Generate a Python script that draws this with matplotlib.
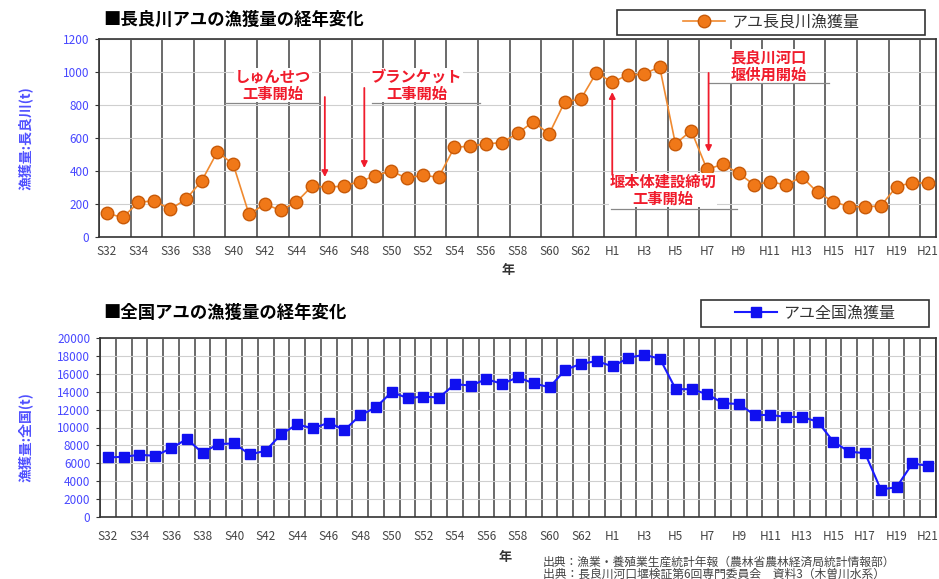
import numpy as np
import matplotlib.pyplot as plt
from matplotlib.patches import Rectangle

plt.rcParams['font.family'] = ['Noto Sans CJK JP', 'DejaVu Sans']

# 年 (昭和32年〜平成21年)
nen = [f'S{n}' for n in range(32, 64)] + [f'H{n}' for n in range(1, 22)]

# 長良川アユ漁獲量 (t)
nagara = [142, 117, 208, 219, 166, 227, 338, 516, 439, 136,
          198, 160, 210, 308, 300, 308, 334, 370, 399, 354,
          374, 360, 542, 550, 563, 571, 627, 698, 623, 820,
          834, 996, 937, 982, 986, 1032, 563, 644, 409, 439,
          385, 314, 334, 314, 364, 269, 213, 182, 182, 186,
          304, 328, 324]

# 全国アユ漁獲量 (t)
zenkoku = [6650, 6730, 6950, 6840, 7660, 8710, 7180, 8150, 8220, 6990,
           7400, 9270, 10350, 9900, 10540, 9720, 11360, 12260, 13980, 13270,
           13460, 13350, 14840, 14690, 15400, 14880, 15620, 14920, 14500, 16450,
           17120, 17420, 16820, 17790, 18130, 17680, 14280, 14280, 13720, 12710,
           12630, 11400, 11400, 11180, 11180, 10650, 8410, 7290, 7140, 3070,
           3330, 5980, 5720]

W, H = 939, 579
fig = plt.figure(figsize=(W / 100, H / 100), dpi=100)

ax1 = fig.add_axes([99 / W, 1 - 236.7 / H, 837 / W, 197.7 / H])
ax2 = fig.add_axes([100 / W, 1 - 517 / H, 836 / W, 179 / H])

x = np.arange(len(nen))

l1, = ax1.plot(x, nagara, '-o', color='#f08a30', mfc='#f07818', mec='#c85a08',
               ms=9, lw=1.2, zorder=4)
l2, = ax2.plot(x, zenkoku, '-s', color='#1a1aff', mfc='#1010f0', mec='#1010f0',
               ms=6.5, lw=1.5, zorder=4)

for ax, ymax, ystep, vstep in [(ax1, 1200, 200, 2), (ax2, 20000, 2000, 1)]:
    ax.set_xlim(-0.5, len(nen) - 0.5)
    ax.set_ylim(0, ymax)
    ax.set_yticks(np.arange(0, ymax + 1, ystep))
    ax.set_xticks(x[::2])
    ax.set_xticklabels(nen[::2])
    ax.set_xticks(np.arange(-0.5, len(nen), vstep), minor=True)
    ax.grid(axis='x', which='minor', color='#505050', lw=1.2)
    ax.grid(axis='y', which='major', color='#cfcfcf', lw=0.8)
    ax.set_axisbelow(True)
    ax.tick_params(axis='x', which='both', length=0, labelsize=8.5, colors='#444444')
    ax.tick_params(axis='y', labelsize=8.5, labelcolor='#4848ff', length=3,
                   color='#333333', pad=4)
    for s in ax.spines.values():
        s.set_color('#333333')
        s.set_linewidth(1.2)

ax1.tick_params(axis='x', pad=6)
ax2.tick_params(axis='x', pad=9)

# タイトル
fig.text(103 / W, 1 - 20 / H, '■長良川アユの漁獲量の経年変化', fontsize=12.5,
         fontweight='bold', ha='left', va='center')
fig.text(103 / W, 1 - 313 / H, '■全国アユの漁獲量の経年変化', fontsize=12.5,
         fontweight='bold', ha='left', va='center')

# 縦軸ラベル
fig.text(25 / W, 1 - 138 / H, '漁獲量:長良川(t)', rotation=90, fontsize=10,
         color='#5050ff', ha='center', va='center', fontweight='bold')
fig.text(25 / W, 1 - 437 / H, '漁獲量:全国(t)', rotation=90, fontsize=10,
         color='#5050ff', ha='center', va='center', fontweight='bold')

# 横軸ラベル
fig.text(508 / W, 1 - 270 / H, '年', fontsize=9.5, ha='center', va='center',
         fontweight='bold', color='#333333')
fig.text(505 / W, 1 - 557 / H, '年', fontsize=9.5, ha='center', va='center',
         fontweight='bold', color='#333333')

# 凡例
for (x0, y0, x1, y1), h, lab in [((617, 10, 925, 35), l1, 'アユ長良川漁獲量'),
                                 ((701, 300, 929, 327), l2, 'アユ全国漁獲量')]:
    fig.add_artist(Rectangle((x0 / W, 1 - y1 / H), (x1 - x0) / W, (y1 - y0) / H,
                             transform=fig.transFigure, fc='white',
                             ec='#333333', lw=1.2))
    fig.legend([h], [lab], loc='center',
               bbox_to_anchor=((x0 + x1) / 2 / W, 1 - (y0 + y1) / 2 / H),
               frameon=False, fontsize=11.5, handlelength=2.6, handletextpad=0.4,
               borderpad=0.1, labelcolor='#333333')

# 注記 (工事など)
red = '#f01c2c'
notes = [('しゅんせつ\n工事開始', 10.5, 921),
         ('ブランケット\n工事開始', 19.6, 921),
         ('長良川河口\n堰供用開始', 41.9, 1036),
         ('堰本体建設締切\n工事開始', 35.2, 283)]
for txt, tx, ty in notes:
    ax1.text(tx, ty, txt, color=red, fontsize=11, fontweight='bold',
             ha='center', va='center', linespacing=1.1, zorder=5,
             bbox=dict(fc='white', ec='none', pad=0.5))

underlines = [(811, 7.5, 13.4), (811, 16.8, 23.6), (933, 38.1, 45.7), (167, 31.9, 39.9)]
for yy, xa, xb in underlines:
    ax1.plot([xa, xb], [yy, yy], color='#888888', lw=0.9, zorder=5)

arrows = [(13.8, 848, 362), (16.3, 903, 417), (38.1, 994, 514), (32.0, 375, 878)]
for ax_x, tail, tip in arrows:
    ax1.annotate('', xy=(ax_x, tip), xytext=(ax_x, tail),
                 arrowprops=dict(arrowstyle='-|>', color=red, lw=1.3,
                                 mutation_scale=9, shrinkA=0, shrinkB=0),
                 zorder=6)

# 出典
fig.text(543 / W, 1 - 562 / H,
         '出典：漁業・養殖業生産統計年報（農林省農林経済局統計情報部）',
         fontsize=8.5, color='#444444', ha='left', va='center')
fig.text(543 / W, 1 - 574 / H,
         '出典：長良川河口堰検証第6回専門委員会　資料3（木曽川水系）',
         fontsize=8.5, color='#444444', ha='left', va='center')

fig.savefig('out.png', dpi=100, facecolor='white')
